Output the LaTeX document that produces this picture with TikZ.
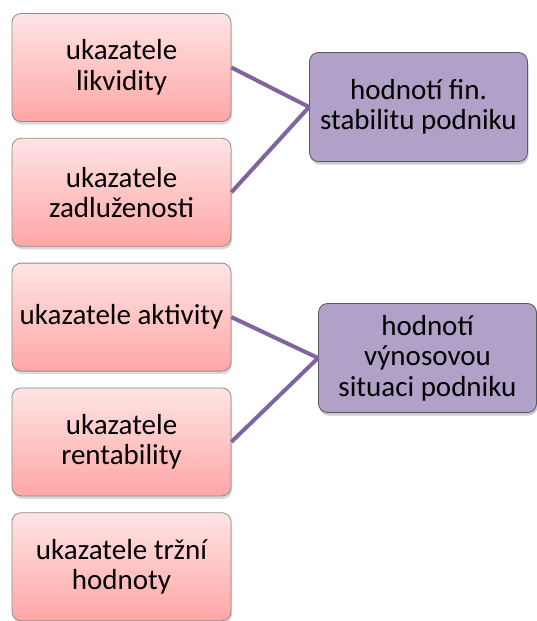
\documentclass[tikz,border=0pt]{standalone}
\usepackage{fontspec}
\setmainfont{Carlito}
\usepackage{xcolor}
\usetikzlibrary{positioning, shadows}

\definecolor{pinktop}{HTML}{FFE4E4}
\definecolor{pinkbot}{HTML}{FFA6A6}
\definecolor{lilac}{HTML}{B1A0C7}
\definecolor{lilacline}{HTML}{8064A2}

\begin{document}
\begin{tikzpicture}[
    x=1pt, y=-1pt,
    font=\fontsize{29}{30.5}\selectfont,
    node distance=16pt,
    indicator/.style={
        rectangle,
        rounded corners=9pt,
        draw=black!45,
        line width=0.8pt,
        top color=pinktop,
        bottom color=pinkbot,
        align=center,
        minimum width=219pt,
        minimum height=108pt,
        inner sep=2pt,
        drop shadow={shadow xshift=1pt, shadow yshift=-3pt, opacity=0.3}
    },
    purpose/.style={
        rectangle,
        rounded corners=9pt,
        draw=black!65,
        line width=0.8pt,
        fill=lilac,
        align=center,
        minimum width=218pt,
        minimum height=109pt,
        inner sep=2pt,
        drop shadow={shadow xshift=1pt, shadow yshift=-3pt, opacity=0.4}
    },
    link/.style={draw=lilacline, line width=4pt}
]
\useasboundingbox (0,0) rectangle (537,621);

% Nodes
\node (likv) [indicator] at (121.5,67.5) {ukazatele\\likvidity};
\node (zadl) [indicator, below=of likv] {ukazatele\\zadluženosti};
\node (akt) [indicator, below=of zadl] {ukazatele aktivity};
\node (rent) [indicator, below=of akt] {ukazatele\\rentability};
\node (trh) [indicator, below=of rent] {ukazatele tržní\\hodnoty};

\node (stab) [purpose] at (418.5,107) {hodnotí fin.\\stabilitu podniku};
\node (vyn) [purpose] at (427.5,358) {hodnotí\\výnosovou\\situaci podniku};

% Lines
\draw [link] (likv.east) -- (stab.west);
\draw [link] (zadl.east) -- (stab.west);

\draw [link] (akt.east) -- (vyn.west);
\draw [link] (rent.east) -- (vyn.west);

\end{tikzpicture}
\end{document}
